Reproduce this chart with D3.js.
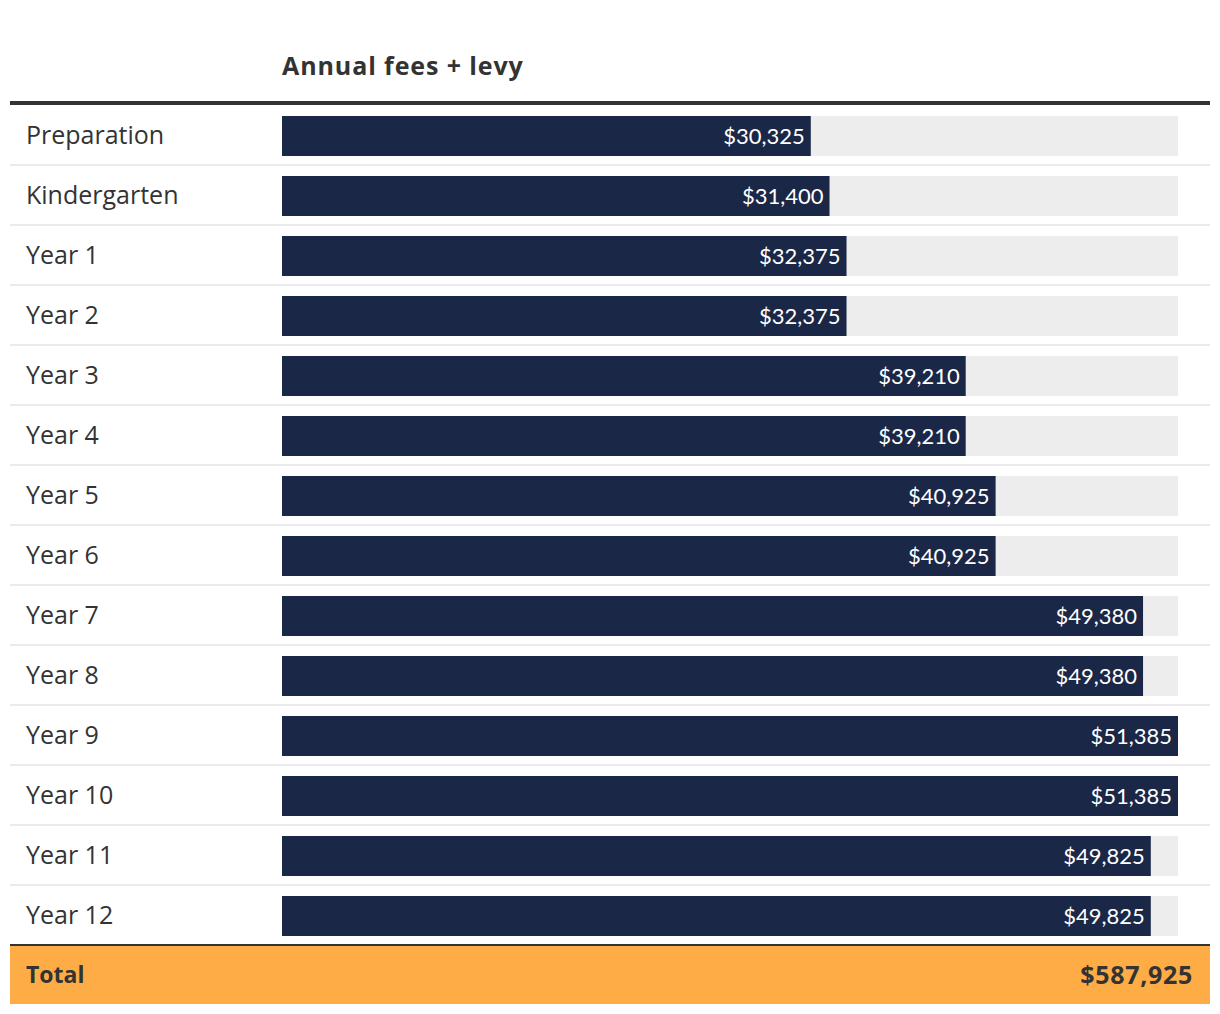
<!DOCTYPE html>
<html><head><meta charset="utf-8">
<script src="https://cdn.jsdelivr.net/npm/d3@7"></script>
<style>body{margin:0;background:#fff;} svg{display:block;}</style>
</head><body>
<svg id="chart" width="1220" height="1014"></svg>
<script>
const categories = ["Preparation","Kindergarten","Year 1","Year 2","Year 3","Year 4","Year 5","Year 6","Year 7","Year 8","Year 9","Year 10","Year 11","Year 12"];
const values = [30325,31400,32375,32375,39210,39210,40925,40925,49380,49380,51385,51385,49825,49825];
const title = "Annual fees + levy";
const totalLabel = "Total";
const totalValue = 587925;

const FONT = "'Open Sans', sans-serif";
const VFONT = "Lato, sans-serif";
const svg = d3.select("#chart");
const fmt = v => "$" + d3.format(",")(v);

const rowTop = 105, rowH = 60;
const y = d3.scaleBand().domain(categories).range([rowTop, rowTop + rowH*categories.length]).paddingInner(0).paddingOuter(0);
const x = d3.scaleLinear().domain([0, d3.max(values)]).range([282, 1178]);

svg.append("text").attr("x",282).attr("y",75).attr("font-family",FONT).attr("font-weight",700)
  .attr("font-size",25).attr("letter-spacing","0.9").attr("fill","#333").text(title);

svg.append("rect").attr("x",10).attr("y",101).attr("width",1200).attr("height",4).attr("fill","#333");

const rows = svg.selectAll("g.row").data(categories).join("g").attr("class","row")
  .attr("transform", d => `translate(0,${y(d)})`);

rows.filter((d,i)=> i < categories.length-1).append("rect").attr("x",10).attr("y",rowH-1).attr("width",1200).attr("height",2).attr("fill","#ebebeb");

rows.append("text").attr("x",26).attr("y",rowH/2).attr("dy","0.35em").attr("font-family",FONT)
  .attr("font-size",25).attr("fill","#333").text(d=>d);

rows.append("rect").attr("x",x(0)).attr("y",11).attr("width",x.range()[1]-x(0)).attr("height",40).attr("fill","#ededed");
rows.append("rect").attr("x",x(0)).attr("y",11).attr("width",(d,i)=>x(values[i])-x(0)).attr("height",40).attr("fill","#1b2747");
rows.append("text").attr("x",(d,i)=>x(values[i])-6).attr("y",31).attr("dy","0.35em").attr("text-anchor","end")
  .attr("font-family",VFONT).attr("font-size",22).attr("fill","#fff").text((d,i)=>fmt(values[i]));

const tTop = rowTop + rowH*categories.length;
svg.append("rect").attr("x",10).attr("y",tTop+1).attr("width",1200).attr("height",58).attr("fill","#feac46");
svg.append("rect").attr("x",10).attr("y",tTop-1).attr("width",1200).attr("height",2).attr("fill","#333");
svg.append("text").attr("x",26).attr("y",tTop+30).attr("dy","0.35em").attr("font-family",FONT).attr("font-weight",700)
  .attr("font-size",23).attr("fill","#333").text(totalLabel);
svg.append("text").attr("x",1193).attr("y",tTop+30).attr("dy","0.35em").attr("text-anchor","end").attr("font-family",FONT).attr("font-weight",700)
  .attr("font-size",25).attr("letter-spacing","0.7").attr("fill","#333").text(fmt(totalValue));
</script>
</body></html>
